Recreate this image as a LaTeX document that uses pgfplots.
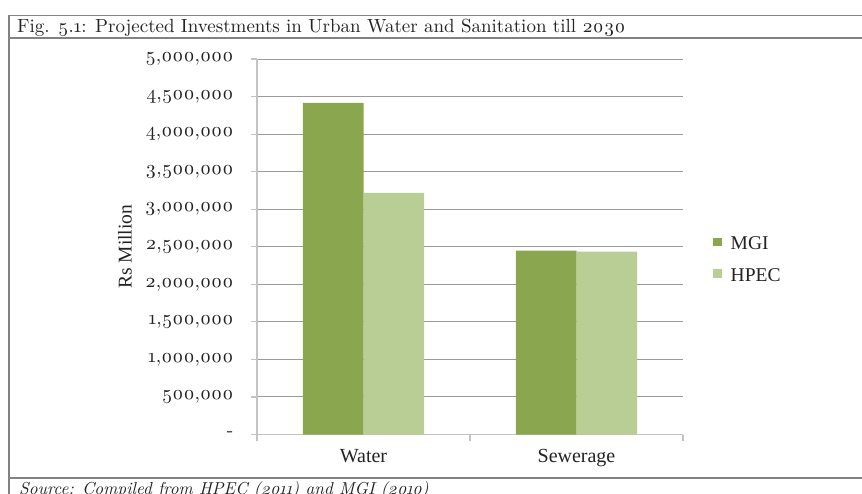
\documentclass[border=0pt]{standalone}
\usepackage{fontspec}
\setmainfont{Liberation Serif}
\newfontfamily\oldserif{lmroman10}[Extension=.otf, UprightFont=*-regular, ItalicFont=*-italic, Numbers=OldStyle]
\usepackage{pgfplots}
\pgfplotsset{compat=1.18}
\definecolor{mgi}{RGB}{138,166,79}
\definecolor{hpec}{RGB}{185,206,149}
\definecolor{framec}{RGB}{130,130,130}
\definecolor{gridc}{RGB}{155,155,155}
\definecolor{axisc}{RGB}{195,195,195}
\definecolor{txt}{RGB}{35,35,35}

\begin{document}
\begin{tikzpicture}
\useasboundingbox (0pt,0pt) rectangle (862pt,493pt);
\clip (0pt,0pt) rectangle (862pt,493pt);
% outer frame, title row and source row
\draw[framec, line width=1.8pt] (9pt,-2pt) -- (9pt,477.5pt) -- (870pt,477.5pt);
\draw[framec, line width=1.8pt] (9pt,455pt) -- (870pt,455pt);
\draw[framec, line width=1.8pt] (9pt,15pt) -- (870pt,15pt);
\node[anchor=base west, inner sep=0pt, text=txt, font=\oldserif\fontsize{19}{21}\selectfont]
  at (17pt,460pt) {Fig. 5.1: Projected Investments in Urban Water and Sanitation till 2030};
\node[anchor=base west, inner sep=0pt, text=txt, font=\oldserif\itshape\fontsize{17.3}{19}\selectfont]
  at (19pt,-1.5pt) {Source: Compiled from HPEC (2011) and MGI (2010)};

\begin{axis}[
    at={(257pt,58.5pt)}, anchor=south west,
    scale only axis,
    width=426pt, height=375.5pt,
    xmin=-0.5, xmax=1.5,
    ymin=0, ymax=5000000,
    ybar=0pt, bar width=60.7pt,
    axis x line*=bottom, axis y line*=left,
    axis line style={axisc, line width=1.2pt, -},
    tick align=outside,
    major tick length=6pt, minor tick length=6pt,
    tick style={axisc, line width=1.2pt},
    xtick={0,1},
    xticklabels={Water,Sewerage},
    major x tick style={draw=none},
    minor xtick={-0.5,0.5,1.5},
    ytick={0,500000,...,5000000},
    yticklabels={{-},{500,000},{1,000,000},{1,500,000},{2,000,000},{2,500,000},{3,000,000},{3,500,000},{4,000,000},{4,500,000},{5,000,000}},
    scaled y ticks=false,
    ymajorgrids,
    grid style={gridc, line width=1pt},
    yticklabel style={font=\oldserif\fontsize{19.5}{20}\selectfont, text=txt, xshift=-14pt},
    xticklabel style={font=\fontsize{20}{20}\selectfont, text=txt, anchor=base, inner sep=0pt, yshift=-22pt},
    ylabel={Rs Million},
    ylabel style={at={(axis description cs:-0.31,0.5)}, anchor=center, font=\fontsize{19.5}{20}\selectfont, text=txt},
    legend style={draw=none, fill=none, at={(axis description cs:1.0704,0.465)}, anchor=west,
        font=\fontsize{19.5}{20}\selectfont, text=txt, inner sep=0pt, row sep=13pt,
        /tikz/every odd column/.append style={column sep=7pt}},
    legend cell align=left,
    legend image code/.code={\fill[#1] (0pt,-2pt) rectangle (8.5pt,6.5pt);},
]
\addplot[fill=mgi, draw=none] coordinates {(0,4415000) (1,2447000)};
\addlegendentry{MGI}
\addplot[fill=hpec, draw=none] coordinates {(0,3218000) (1,2434000)};
\addlegendentry{HPEC}
\end{axis}
\end{tikzpicture}
\end{document}
